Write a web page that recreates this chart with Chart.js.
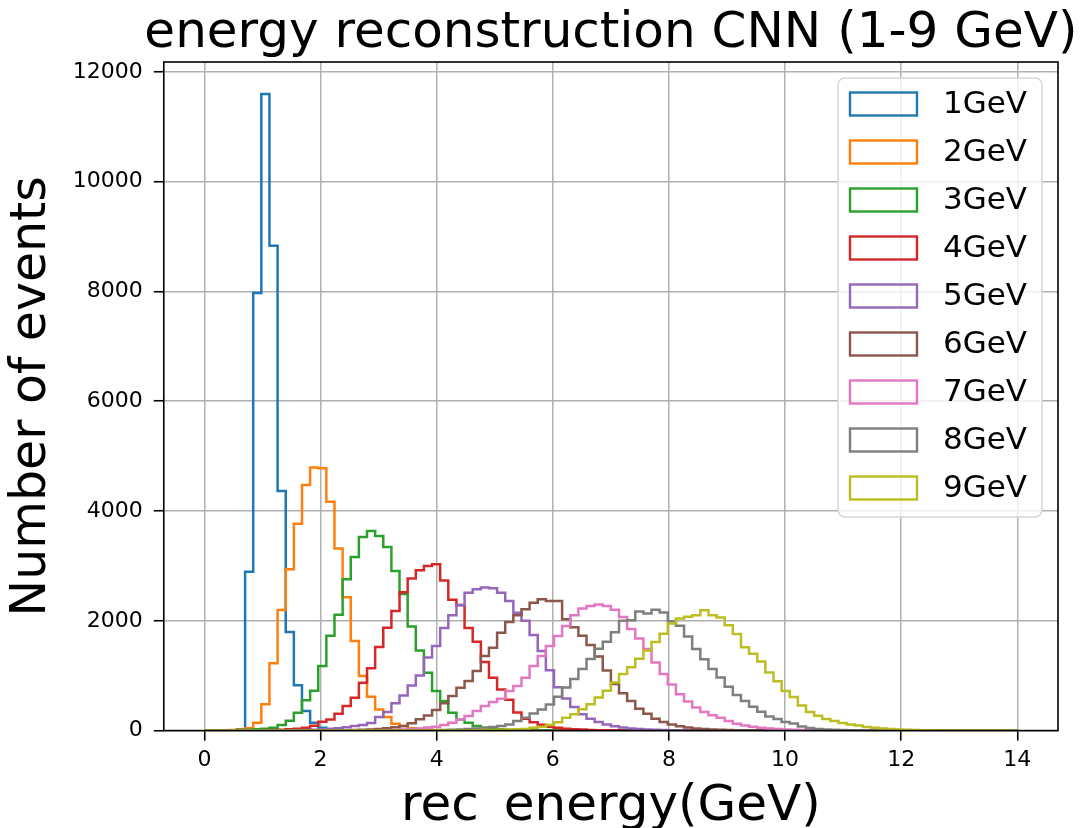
<!DOCTYPE html>
<html>
<head>
<meta charset="utf-8">
<script src="https://cdn.jsdelivr.net/npm/chart.js@4.4.1/dist/chart.umd.min.js"></script>
<style>
  html, body { margin: 0; padding: 0; background: #fff; }
</style>
</head>
<body>
<canvas id="histChart" width="1084" height="828"></canvas>
<script>
// histogram binning: 100 bins over 0..14 GeV
const binWidth = 0.14;
const nBins = 100;

const chartTitle = "energy reconstruction CNN (1-9 GeV)";
const seriesLabels = ["1GeV", "2GeV", "3GeV", "4GeV", "5GeV", "6GeV", "7GeV", "8GeV", "9GeV"];
const seriesColors = ["#1f77b4", "#ff7f0e", "#2ca02c", "#d62728", "#9467bd", "#8c564b", "#e377c2", "#7f7f7f", "#bcbd22"];

// index of the first non-empty bin for each series (all other bins are 0)
const startBins = [3, 1, 3, 8, 12, 18, 22, 28, 33];

// counts per bin
const counts1GeV = [5, 25, 2895, 7970, 11598, 8832, 4366, 1796, 824, 355, 142, 50, 20, 10, 5];
const counts2GeV = [3, 5, 10, 20, 45, 142, 478, 1225, 2197, 2938, 3770, 4475, 4791, 4780, 4171, 3318, 2430, 1632, 994, 616,
  386, 246, 124, 82, 45, 30, 20, 12, 8, 5];
const counts3GeV = [5, 10, 15, 25, 35, 51, 100, 180, 324, 555, 725, 1176, 1730, 2110, 2755, 3163, 3527, 3637, 3546, 3345,
  2908, 2490, 1895, 1460, 1054, 720, 538, 325, 204, 143, 82, 52, 35, 25, 15, 10, 6];
const counts4GeV = [10, 15, 25, 35, 50, 90, 160, 204, 306, 447, 598, 871, 1134, 1522, 1874, 2178, 2520, 2770, 2920, 3000,
  3030, 2735, 2385, 2290, 1870, 1620, 1250, 965, 750, 560, 330, 215, 150, 105, 70, 50, 35, 25, 18, 12, 8, 5];
const counts5GeV = [10, 15, 25, 35, 45, 60, 82, 100, 140, 246, 340, 500, 640, 820, 1005, 1330, 1540, 1870, 2101, 2283,
  2513, 2575, 2605, 2593, 2513, 2361, 2149, 2000, 1740, 1450, 1100, 790, 585, 430, 300, 215, 155, 110, 78, 55,
  40, 28, 20, 14, 10, 7, 5];
const counts6GeV = [10, 15, 20, 30, 45, 60, 85, 135, 205, 275, 375, 500, 629, 781, 903, 1085, 1359, 1511, 1784, 1979,
  2101, 2210, 2331, 2392, 2361, 2361, 2030, 1885, 1730, 1560, 1350, 1095, 850, 680, 540, 400, 305, 215, 155, 110,
  78, 55, 40, 28, 20, 14, 10, 7, 5];
const counts7GeV = [10, 15, 22, 30, 40, 55, 70, 100, 143, 204, 264, 356, 447, 520, 580, 720, 812, 964, 1176, 1359,
  1541, 1723, 1906, 2102, 2225, 2268, 2298, 2271, 2200, 2070, 1850, 1680, 1485, 1240, 1030, 840, 660, 530, 420, 340,
  280, 235, 175, 126, 95, 70, 52, 38, 28, 20, 14, 10, 7, 5];
const counts8GeV = [8, 10, 15, 20, 30, 40, 50, 65, 82, 112, 173, 234, 313, 386, 477, 615, 785, 939, 1123, 1306,
  1490, 1620, 1790, 2000, 2010, 2170, 2132, 2200, 2150, 1990, 1912, 1714, 1485, 1302, 1120, 968, 800, 647, 540, 433,
  342, 256, 210, 158, 128, 73, 46, 30, 22, 16, 11, 8, 5];
const counts9GeV = [8, 10, 12, 15, 20, 25, 30, 50, 70, 100, 150, 236, 297, 389, 481, 603, 725, 878, 1031, 1154,
  1307, 1460, 1613, 1766, 1950, 2041, 2072, 2102, 2194, 2100, 2060, 1920, 1760, 1520, 1400, 1260, 1060, 900, 720, 610,
  455, 340, 270, 210, 175, 140, 112, 95, 65, 50, 38, 28, 20, 14, 10, 7, 5];

const allCounts = [counts1GeV, counts2GeV, counts3GeV, counts4GeV, counts5GeV, counts6GeV, counts7GeV, counts8GeV, counts9GeV];

const xTicks = [0, 2, 4, 6, 8, 10, 12, 14];
const yTicks = [0, 2000, 4000, 6000, 8000, 10000, 12000];

const fontFamily = "'DejaVu Sans', sans-serif";

// turn a sparse count list into step points at the bin edges
function stepPoints(start, counts) {
  const full = new Array(nBins).fill(0);
  counts.forEach((c, i) => { full[start + i] = c; });
  const pts = full.map((c, i) => ({ x: +(i * binWidth).toFixed(2), y: c }));
  pts.unshift({ x: 0, y: 0 });
  pts.push({ x: +(nBins * binWidth).toFixed(2), y: 0 });
  return pts;
}

const datasets = seriesLabels.map((label, i) => ({
  label: label,
  data: stepPoints(startBins[i], allCounts[i]),
  borderColor: seriesColors[i],
  backgroundColor: seriesColors[i],
  borderWidth: 2.5,
  pointRadius: 0,
  fill: false,
  stepped: true,
  tension: 0,
  order: seriesLabels.length - i   // later series drawn on top, like matplotlib
}));

// black frame around the plot area (all four spines)
const frame = {
  id: "frame",
  afterDatasetsDraw(chart) {
    const { ctx, chartArea: a } = chart;
    ctx.save();
    ctx.strokeStyle = "#000";
    ctx.lineWidth = 1.6;
    ctx.strokeRect(a.left, a.top, a.right - a.left, a.bottom - a.top);
    ctx.restore();
  }
};

// title centred over the plot area (wider than the plot area itself)
const plotTitle = {
  id: "plotTitle",
  afterDraw(chart) {
    const { ctx, chartArea: a } = chart;
    ctx.save();
    ctx.font = "50px " + fontFamily;
    ctx.fillStyle = "#000";
    ctx.textAlign = "center";
    ctx.textBaseline = "alphabetic";
    ctx.fillText(chartTitle, (a.left + a.right) / 2, 47);
    ctx.restore();
  }
};

// legend box inside the upper right corner
const boxLegend = {
  id: "boxLegend",
  afterDraw(chart) {
    const { ctx, chartArea: a } = chart;
    const w = 204, h = 439;
    const x0 = a.right - 16 - w;
    const y0 = a.top + 16;
    ctx.save();
    ctx.beginPath();
    ctx.roundRect(x0, y0, w, h, 7);
    ctx.fillStyle = "rgba(255,255,255,0.8)";
    ctx.fill();
    ctx.strokeStyle = "#d6d6d6";
    ctx.lineWidth = 1.5;
    ctx.stroke();
    ctx.font = "31px " + fontFamily;
    ctx.textBaseline = "middle";
    ctx.fillStyle = "#000";
    seriesLabels.forEach((label, i) => {
      const cy = y0 + 26 + i * 48;
      ctx.strokeStyle = seriesColors[i];
      ctx.lineWidth = 2.4;
      ctx.strokeRect(x0 + 12, cy - 11.5, 67, 23);
      ctx.fillText(label, x0 + 105, cy + 1);
    });
    ctx.restore();
  }
};

new Chart(document.getElementById("histChart"), {
  type: "line",
  data: { datasets: datasets },
  plugins: [frame, plotTitle, boxLegend],
  options: {
    responsive: false,
    animation: false,
    devicePixelRatio: 1,
    layout: { padding: { left: 0, right: 26, top: 62, bottom: 0 } },
    plugins: {
      legend: { display: false },
      tooltip: { enabled: false },
      title: { display: false }
    },
    scales: {
      x: {
        type: "linear",
        min: -0.7,
        max: 14.7,
        afterBuildTicks: axis => { axis.ticks = xTicks.map(v => ({ value: v })); },
        border: { display: false },
        grid: { color: "#b0b0b0", lineWidth: 1.5, tickColor: "#000", tickLength: 10, tickWidth: 1.6 },
        ticks: {
          color: "#000", padding: 6, maxRotation: 0, autoSkip: false,
          font: { family: fontFamily, size: 22 },
          callback: v => String(v)
        },
        title: {
          display: true,
          text: "rec_energy(GeV)",
          color: "#000",
          font: { family: fontFamily, size: 50 },
          padding: { top: -2, bottom: -9 }
        }
      },
      y: {
        type: "linear",
        min: 0,
        max: 12180,
        afterBuildTicks: axis => { axis.ticks = yTicks.map(v => ({ value: v })); },
        border: { display: false },
        grid: { color: "#b0b0b0", lineWidth: 1.5, tickColor: "#000", tickLength: 10, tickWidth: 1.6 },
        ticks: {
          color: "#000", padding: 11,
          font: { family: fontFamily, size: 22 },
          callback: v => String(v)
        },
        title: {
          display: true,
          text: "Number of events",
          color: "#000",
          font: { family: fontFamily, size: 49 },
          padding: { top: 3, bottom: 0 }
        }
      }
    }
  }
});
</script>
</body>
</html>
